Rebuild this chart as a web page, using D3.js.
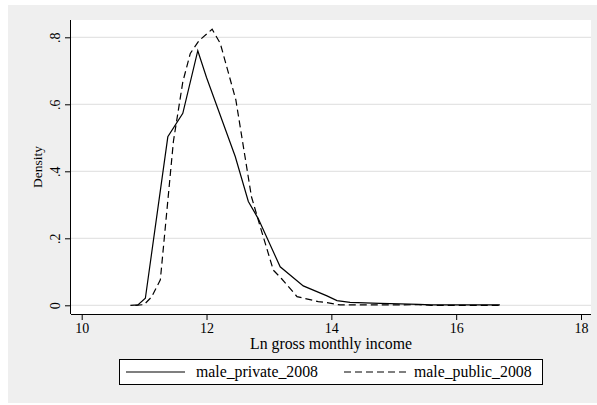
<!DOCTYPE html>
<html><head><meta charset="utf-8">
<script src="https://cdn.jsdelivr.net/npm/d3@7"></script>
<style>body{margin:0;background:#fff}svg{display:block}</style>
</head><body>
<svg id="chart" width="597" height="405"></svg>
<script>
// Data
const privateX = [10.78,10.9,11.02,11.38,11.62,11.86,12.00,12.46,12.67,12.83,13.18,13.55,13.93,14.09,14.30,14.78,15.1,15.4,15.6,16.0,16.7];
const privateY = [0,0.001,0.021,0.503,0.573,0.76,0.68,0.444,0.31,0.258,0.115,0.058,0.028,0.014,0.009,0.006,0.004,0.003,0.001,0.001,0.001];
const publicX = [10.86,11.0,11.12,11.26,11.47,11.62,11.74,11.88,12.09,12.22,12.47,12.72,12.86,13.07,13.2,13.45,13.79,13.93,14.14,14.5,15.0,15.4,15.6,16.7];
const publicY = [0,0.002,0.025,0.076,0.49,0.667,0.752,0.79,0.824,0.782,0.613,0.324,0.235,0.105,0.08,0.026,0.011,0.008,0.001,0.001,0.001,0.002,0,0];
const xTicks = [10,12,14,16,18];
const yTicks = [0,0.2,0.4,0.6,0.8];
const yTickLabels = ["0",".2",".4",".6",".8"];
const seriesNames = ["male_private_2008","male_public_2008"];

const svg = d3.select("#chart");
const font = "'Liberation Serif','Times New Roman',serif";
const plot = {left:71, right:591, top:20, bottom:314};

svg.append("rect").attr("x",8).attr("y",5).attr("width",589).attr("height",398).attr("fill","#efefef");
svg.append("rect").attr("x",plot.left).attr("y",plot.top).attr("width",plot.right-plot.left).attr("height",plot.bottom-plot.top).attr("fill","#fff");

const x = d3.scaleLinear().domain([10,18]).range([81.7,581]);
const y = d3.scaleLinear().domain([0,0.8]).range([305.3,37.3]);

// grid
svg.append("g").selectAll("line").data(yTicks).join("line")
  .attr("x1",plot.left).attr("x2",plot.right)
  .attr("y1",d=>y(d)).attr("y2",d=>y(d))
  .attr("stroke","#e4e4e4").attr("stroke-width",1.2);

// axes
const xAxis = svg.append("g").attr("transform",`translate(0,${plot.bottom})`)
  .call(d3.axisBottom(x).tickValues(xTicks).tickSize(6).tickPadding(3).tickFormat(d3.format("d")));
xAxis.select(".domain").attr("d",`M${plot.left},0.5H${plot.right}`).attr("stroke","#000");
xAxis.selectAll("text").attr("font-family",font).attr("font-size",14).attr("fill","#000");

const yAxis = svg.append("g").attr("transform",`translate(${plot.left},0)`)
  .call(d3.axisLeft(y).tickValues(yTicks).tickSize(6).tickFormat((d,i)=>yTickLabels[i]));
yAxis.select(".domain").attr("d",`M-0.5,${plot.top}V${plot.bottom}`).attr("stroke","#000");
yAxis.selectAll("text").attr("font-family",font).attr("font-size",14).attr("fill","#000")
  .attr("transform","rotate(-90)").attr("x",0).attr("y",-11).attr("dy",0)
  .attr("text-anchor","middle");

// axis titles
svg.append("text").attr("x",(plot.left+plot.right)/2).attr("y",349)
  .attr("text-anchor","middle").attr("font-family",font).attr("font-size",15.8).text("Ln gross monthly income");
svg.append("text").attr("transform",`translate(42,${(plot.top+plot.bottom)/2}) rotate(-90)`)
  .attr("text-anchor","middle").attr("font-family",font).attr("font-size",13.5).text("Density");

// lines
const line = d3.line().x(d=>x(d[0])).y(d=>y(d[1]));
const priv = privateX.map((v,i)=>[v,privateY[i]]);
const pub = publicX.map((v,i)=>[v,publicY[i]]);
svg.append("path").datum(priv).attr("d",line).attr("fill","none").attr("stroke","#000").attr("stroke-width",1.2);
svg.append("path").datum(pub).attr("d",line).attr("fill","none").attr("stroke","#000").attr("stroke-width",1.2).attr("stroke-dasharray","7,4");

// legend
svg.append("rect").attr("x",119.5).attr("y",359.5).attr("width",423).attr("height",25).attr("fill","#fff").attr("stroke","#000");
const lg = [{x1:126,x2:185,tx:196,dash:null},{x1:344,x2:406,tx:414,dash:"7,4"}];
lg.forEach((l,i)=>{
  svg.append("line").attr("x1",l.x1).attr("x2",l.x2).attr("y1",372).attr("y2",372)
    .attr("stroke","#000").attr("stroke-width",1.2).attr("stroke-dasharray",l.dash);
  svg.append("text").attr("x",l.tx).attr("y",377).attr("font-family",font).attr("font-size",15.8).text(seriesNames[i]);
});
</script>
</body></html>
